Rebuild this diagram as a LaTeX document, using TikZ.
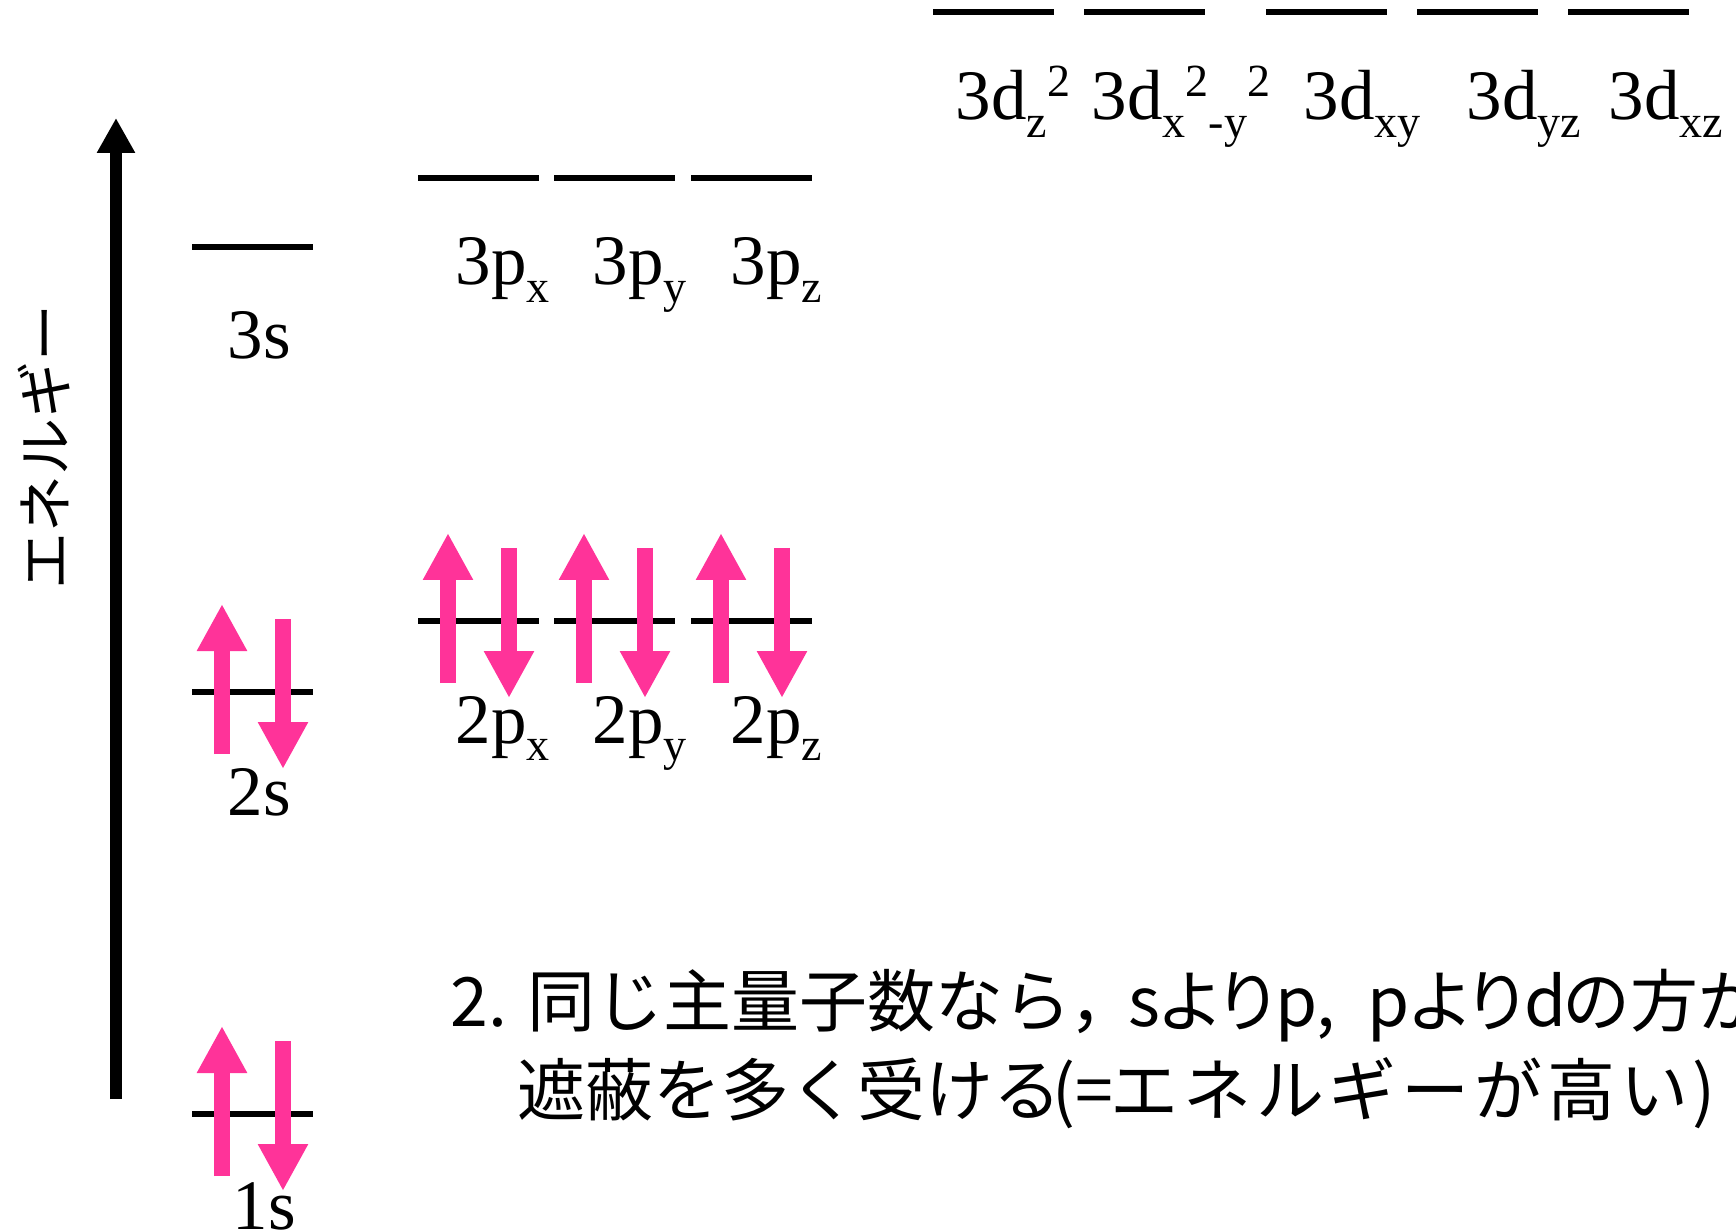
\documentclass[tikz,border=0pt]{standalone}
\usepackage{fontspec}
\setmainfont{Liberation Serif}
\newfontfamily\jpfont{Noto Sans CJK JP}
\newfontfamily\jpprop[RawFeature=+palt]{Noto Sans CJK JP}
\newfontfamily\jpwide[LetterSpace=7]{Noto Sans CJK JP}
\usetikzlibrary{arrows.meta}
\definecolor{spinpink}{RGB}{255,51,153}
\newcommand{\orbsub}[1]{\raisebox{-1.75mm}{\fontsize{13.1pt}{14pt}\selectfont #1}}
\newcommand{\orbsup}[1]{\raisebox{2.3mm}{\fontsize{13.1pt}{14pt}\selectfont #1}}
\newcommand{\orblevel}[3]{%
  \coordinate (#1L) at (#2,#3);
  \coordinate (#1R) at ({#2+121},#3);
  \draw[levelline] (#1L) -- (#1R);}
\newcommand{\orbpair}[3]{%
  \coordinate (#1ua) at ({#2+30},{#3+62});
  \coordinate (#1ub) at ({#2+30},{#3-88});
  \coordinate (#1da) at ({#2+91},{#3-73});
  \coordinate (#1db) at ({#2+91},{#3+77});
  \draw[spin] (#1ua) -- (#1ub);
  \draw[spin] (#1da) -- (#1db);}
\begin{document}
\begin{tikzpicture}[x=0.1mm, y=-0.1mm,
  levelline/.style={line width=0.6mm, black},
  spin/.style={line width=1.6mm, spinpink, -{Triangle[length=4.7mm,width=4.7mm]}},
  orb/.style={font=\fontsize{20.2pt}{22pt}\selectfont, anchor=base west, inner sep=0pt},
  jp/.style={font=\jpfont\fontsize{19.35pt}{22pt}\selectfont, anchor=base west, inner sep=0pt},
  jpp/.style={font=\jpprop\fontsize{19.35pt}{22pt}\selectfont, anchor=base west, inner sep=0pt},
  jpw/.style={font=\jpwide\fontsize{19.35pt}{22pt}\selectfont, anchor=base west, inner sep=0pt},
  axisarrow/.style={line width=1.2mm, black, -{Triangle[length=3.5mm,width=3.6mm]}}]
\useasboundingbox (0,0) rectangle (1736,1232);
\clip (0,0) rectangle (1736,1232);
% energy axis
\coordinate (axb) at (116,1099);
\coordinate (axt) at (116,118);
\draw[axisarrow] (axb) -- (axt);
\node[font=\jpfont\fontsize{16.2pt}{18pt}\selectfont, rotate=90, inner sep=0pt] (elab) at (44,447) {エネルギー};
% levels
\orblevel{s1}{192}{1114}
\orblevel{s2}{192}{692}
\orblevel{s3}{192}{247}
\orblevel{px2}{418}{621}
\orblevel{py2}{554}{621}
\orblevel{pz2}{691}{621}
\orblevel{px3}{418}{178}
\orblevel{py3}{554}{178}
\orblevel{pz3}{691}{178}
\orblevel{da}{933}{12}
\orblevel{db}{1084}{12}
\orblevel{dc}{1266}{12}
\orblevel{dd}{1417}{12}
\orblevel{de}{1568}{12}
% electrons
\orbpair{e1s}{192}{1114}
\orbpair{e2s}{192}{692}
\orbpair{e2px}{418}{621}
\orbpair{e2py}{554}{621}
\orbpair{e2pz}{691}{621}
% labels
\node[orb] (l1s) at (232,1229) {1s};
\node[orb] (l2s) at (227,815) {2s};
\node[orb] (l3s) at (227,359) {3s};
\node[orb] (l2px) at (455,743) {2p\orbsub{x}};
\node[orb] (l2py) at (592,743) {2p\orbsub{y}};
\node[orb] (l2pz) at (730,743) {2p\orbsub{z}};
\node[orb] (l3px) at (455,285) {3p\orbsub{x}};
\node[orb] (l3py) at (592,285) {3p\orbsub{y}};
\node[orb] (l3pz) at (730,285) {3p\orbsub{z}};
\node[orb] (l3da) at (955,120) {3d\orbsub{z}\orbsup{2}};
\node[orb] (l3db) at (1091,120) {3d\orbsub{x}\orbsup{2}\orbsub{-y}\orbsup{2}};
\node[orb] (l3dc) at (1303,120) {3d\orbsub{xy}};
\node[orb] (l3dd) at (1466,120) {3d\orbsub{yz}};
\node[orb] (l3de) at (1608,120) {3d\orbsub{xz}};
% note text
\node[jp] (t1a) at (450,1026) {2.};
\node[jp] (t1b) at (527,1026) {同じ主量子数なら，};
\node[jpp] (t1c) at (1128,1026) {sよりp,};
\node[jpp] (t1d) at (1367,1026) {pよりd};
\node[jp] (t1e) at (1562,1026) {の方が};
\node[jp] (t2a) at (517,1115) {遮蔽を多く受ける};
\node[jp] (t2p) at (1052,1115) {(=};
\node[jpw] (t2b) at (1110,1115) {エネルギーが高い)};
\end{tikzpicture}
\end{document}
